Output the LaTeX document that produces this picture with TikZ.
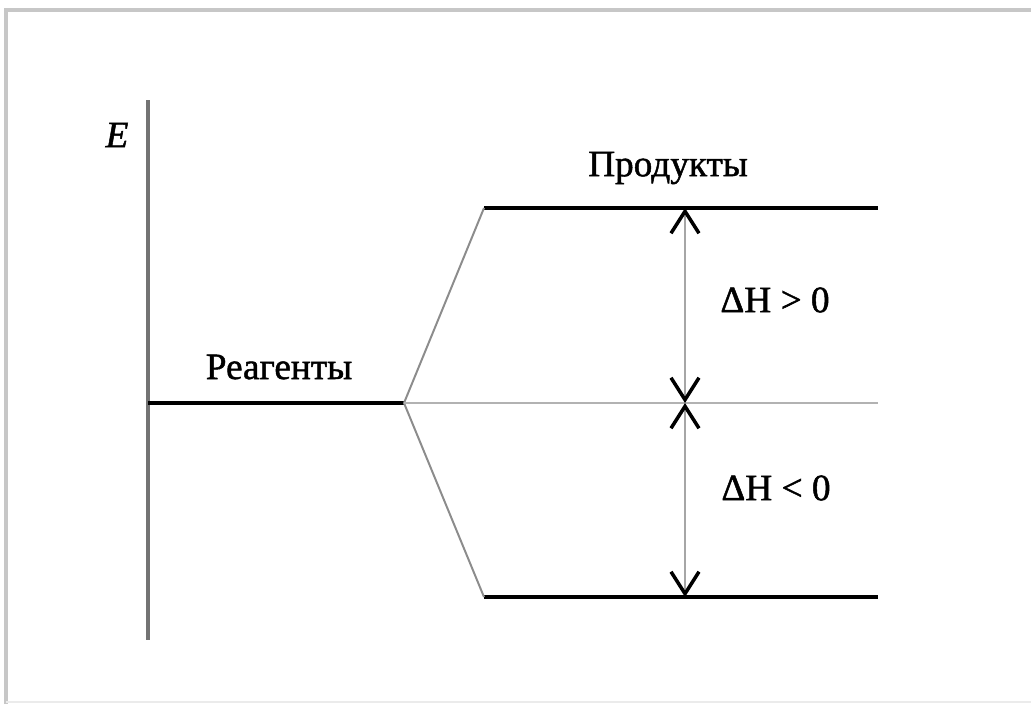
\documentclass[tikz,border=0pt]{standalone}
\usepackage{fontspec}
\setmainfont{Liberation Serif}[FakeBold=1.3]
\newfontfamily\heavy{Liberation Serif}[FakeBold=1.3]
\usetikzlibrary{arrows.meta}

\begin{document}
\begin{tikzpicture}[x=0.025cm, y=-0.025cm]
\tikzstyle{level} = [line width=3.4pt, draw=black]
\tikzstyle{link} = [line width=1.4pt, draw=black!45]
\tikzstyle{dh} = [{Straight Barb[color=black, length=0.55cm, width=0.7cm, line width=2.5pt]}-{Straight Barb[color=black, length=0.55cm, width=0.7cm, line width=2.5pt]}, line width=1.6pt, draw=black!35]
\tikzstyle{caption} = [font=\heavy\fontsize{26.5}{30}\selectfont, inner sep=0pt]

% frame
\useasboundingbox (0,0) rectangle (1031,704);
\draw [black!22, line width=2.5pt] (6,704) -- (6,10) -- (1031,10);
\draw [black!8, line width=1.5pt] (6,702) -- (1031,702);

% points of the diagram
\coordinate (axtop) at (148,100);
\coordinate (axbot) at (148,640);
\coordinate (r0) at (148,403);
\coordinate (r1) at (404,403);
\coordinate (p0) at (484,208);
\coordinate (p1) at (878,208);
\coordinate (q0) at (484,597);
\coordinate (q1) at (878,597);
\coordinate (m1) at (878,403);
\coordinate (a1) at (685,208);
\coordinate (a2) at (685,403);
\coordinate (a3) at (685,597);

% axis
\draw [line width=2.4pt, draw=black!55] (axtop) -- (axbot);
\node (E) [caption, font=\heavy\fontsize{26.5}{30}\selectfont\itshape] at (117,135) {E};

% levels
\draw [level] (r0) -- (r1);
\draw [level] (p0) -- (p1);
\draw [level] (q0) -- (q1);
\draw [link] (r1) -- (p0);
\draw [link] (r1) -- (q0);
\draw [link, draw=black!30] (r1) -- (m1);

\node (reag) [caption] at (279,367) {Реагенты};
\node (prod) [caption] at (668,168) {Продукты};

% enthalpy arrows
\draw [dh] (a1) -- (a2);
\draw [dh] (a2) -- (a3);
\node (endo) [caption] at (775,300) {ΔH > 0};
\node (exo) [caption] at (776,488) {ΔH < 0};

\end{tikzpicture}
\end{document}
